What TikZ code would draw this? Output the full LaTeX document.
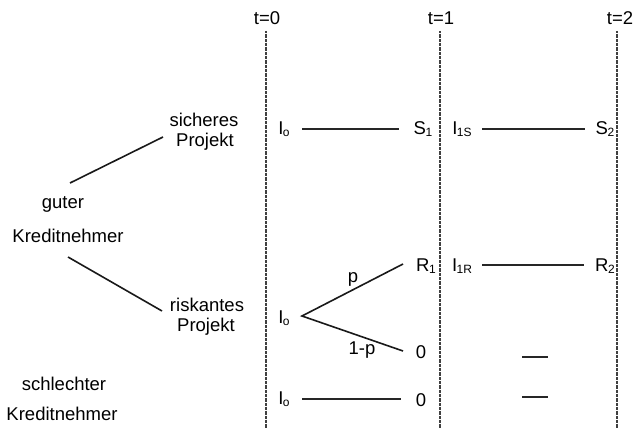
\documentclass[tikz,border=0pt]{standalone}
\usepackage{fontspec}
\setmainfont{Liberation Sans}
\newcommand\sbx[1]{\kern-0.5pt\raisebox{-0.15ex}{\fontsize{12}{13}\selectfont #1}}
\begin{document}
\begin{tikzpicture}[x=1pt,y=-1pt,
  txt/.style={inner sep=0pt, font=\fontsize{18.5}{20}\selectfont},
  conn/.style={line width=1.6pt, black!90},
  hconn/.style={line width=1.2pt, black!85},
  vline/.style={line width=1.4pt, black!75, dash pattern=on 0.8pt off 0.5pt}]
\useasboundingbox (0,0) rectangle (635,428);
% time labels and verticals
\node[txt] (t0) at (267,18) {t=0};
\node[txt] (t1) at (441,18) {t=1};
\node[txt] (t2) at (620,18) {t=2};
\coordinate (v0a) at (266,31); \coordinate (v0b) at (266,428);
\coordinate (v1a) at (440,31); \coordinate (v1b) at (440,428);
\coordinate (v2a) at (617,31); \coordinate (v2b) at (617,428);
\draw[vline] (v0a) -- (v0b);
\draw[vline] (v1a) -- (v1b);
\draw[vline] (v2a) -- (v2b);
% left tree
\node[txt] (sich) at (204,120) {sicheres};
\node[txt] (sichP) at (205,142) {Projekt};
\node[txt] (guter) at (63,204) {guter};
\node[txt] (kred1) at (68,236) {Kreditnehmer};
\node[txt] (risk) at (207,305) {riskantes};
\node[txt] (riskP) at (206,327) {Projekt};
\node[txt] (schl) at (64,384) {schlechter};
\node[txt] (kred2) at (62,414) {Kreditnehmer};
\coordinate (g1) at (70,183); \coordinate (g1e) at (163,137);
\coordinate (g2) at (68,257); \coordinate (g2e) at (162,311);
\draw[conn] (g1) -- (g1e);
\draw[conn] (g2) -- (g2e);
% row 1
\node[txt] (i0a) at (284,129) {I\sbx{o}};
\node[txt] (s1) at (423,129) {S\sbx{1}};
\node[txt] (i1s) at (462,129) {I\sbx{1S}};
\node[txt] (s2) at (605,129) {S\sbx{2}};
\coordinate (r1a) at (302,129); \coordinate (r1b) at (399,129);
\coordinate (r1c) at (482,129); \coordinate (r1d) at (585,129);
\draw[hconn] (r1a) -- (r1b);
\draw[hconn] (r1c) -- (r1d);
% risky row
\node[txt] (i0b) at (284,318) {I\sbx{o}};
\node[txt] (r1) at (426,266) {R\sbx{1}};
\node[txt] (z1) at (421,352) {0};
\coordinate (vx) at (302,316);
\coordinate (up) at (403,264);
\coordinate (dn) at (403,351);
\draw[conn] (up) -- (vx) -- (dn);
\node[txt] (p) at (353,279) {p};
\node[txt] (q) at (362,350) {1-p};
\node[txt] (i1r) at (462,266) {I\sbx{1R}};
\node[txt] (r2) at (605,266) {R\sbx{2}};
\coordinate (r2a) at (482,265); \coordinate (r2b) at (584,265);
\draw[hconn] (r2a) -- (r2b);
\coordinate (d1a) at (522,357); \coordinate (d1b) at (548,357);
\draw[hconn] (d1a) -- (d1b);
% bottom row
\node[txt] (i0c) at (284,399) {I\sbx{o}};
\node[txt] (z2) at (421,400) {0};
\coordinate (b1) at (302,399); \coordinate (b2) at (401,399);
\draw[hconn] (b1) -- (b2);
\coordinate (d2a) at (522,397); \coordinate (d2b) at (548,397);
\draw[hconn] (d2a) -- (d2b);
\end{tikzpicture}
\end{document}
